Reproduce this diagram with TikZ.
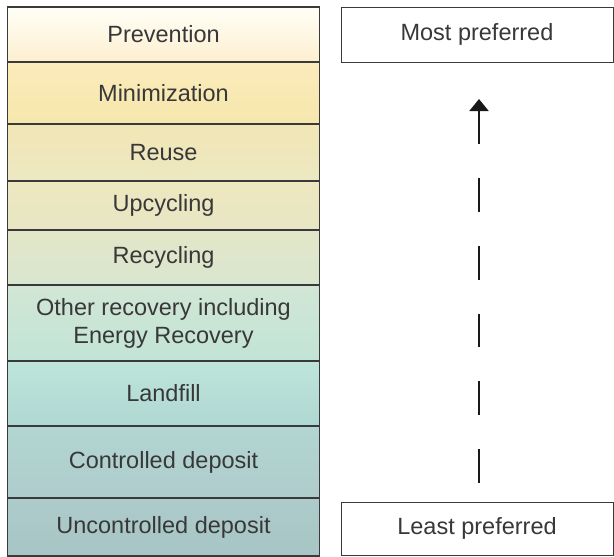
\documentclass[tikz,border=0pt]{standalone}
\usepackage{fontspec}
\setmainfont{Liberation Sans}
\usetikzlibrary{arrows.meta}

\definecolor{edgegray}{HTML}{3A3A3A}
\definecolor{textgray}{HTML}{383838}

\tikzset{
	tier/.style={draw=edgegray, line width=1.3pt, minimum width=312pt, inner sep=0pt,
		text=textgray, align=center, font=\fontsize{23.5}{28}\selectfont},
	endbox/.style={draw=edgegray, line width=1pt, fill=white, minimum width=272pt, inner sep=0pt,
		text=textgray, font=\fontsize{23.5}{28}\selectfont},
	pref arrow/.style={line width=2pt, draw=black!90, dash pattern=on 33.9pt off 33.9pt,
		-{Triangle[length=12pt,width=19pt]}}
}

\begin{document}
\begin{tikzpicture}[x=1pt, y=-1pt]
	\useasboundingbox (0,0) rectangle (614,557);

	% hierarchy column
	\node[tier, minimum height=55pt, top color=white!60!yellow!8, bottom color={rgb,255:red,253;green,239;blue,208}] (prevention) at (163.5,34.5) {Prevention};
	\node[tier, minimum height=62pt, top color={rgb,255:red,252;green,235;blue,187}, middle color={rgb,255:red,253;green,228;blue,150}, bottom color={rgb,255:red,245;green,231;blue,172}] (minimization) at (163.5,93) {Minimization};
	\node[tier, minimum height=57pt, top color={rgb,255:red,241;green,230;blue,181}, bottom color={rgb,255:red,237;green,232;blue,194}] (reuse) at (163.5,152.5) {Reuse};
	\node[tier, minimum height=49pt, top color={rgb,255:red,238;green,231;blue,191}, bottom color={rgb,255:red,231;green,230;blue,196}] (upcycling) at (163.5,205.5) {Upcycling};
	\node[tier, minimum height=55pt, top color={rgb,255:red,227;green,230;blue,200}, bottom color={rgb,255:red,217;green,230;blue,207}] (recycling) at (163.5,257.5) {Recycling};
	\node[tier, minimum height=76pt, top color={rgb,255:red,210;green,230;blue,213}, bottom color={rgb,255:red,193;green,228;blue,214}] (recovery) at (163.5,323) {Other recovery including\\Energy Recovery};
	\node[tier, minimum height=65pt, top color={rgb,255:red,189;green,229;blue,217}, middle color={rgb,255:red,173;green,226;blue,214}, bottom color={rgb,255:red,176;green,216;blue,211}] (landfill) at (163.5,393.5) {Landfill};
	\node[tier, minimum height=72pt, top color={rgb,255:red,179;green,214;blue,210}, bottom color={rgb,255:red,174;green,204;blue,204}] (controlled) at (163.5,462) {Controlled deposit};
	\node[tier, minimum height=58pt, top color={rgb,255:red,174;green,203;blue,204}, bottom color={rgb,255:red,168;green,197;blue,198}] (uncontrolled) at (163.5,527) {Uncontrolled deposit};

	% preference scale
	\node[endbox, minimum height=55pt] (most) at (477,34.5) {Most preferred};
	\node[endbox, minimum height=53pt] (least) at (477,528.5) {Least preferred};

	\coordinate (arrtail) at (479,483);
	\coordinate (arrtip) at (479,99);
	\draw[pref arrow] (arrtail) -- (arrtip);
\end{tikzpicture}
\end{document}
